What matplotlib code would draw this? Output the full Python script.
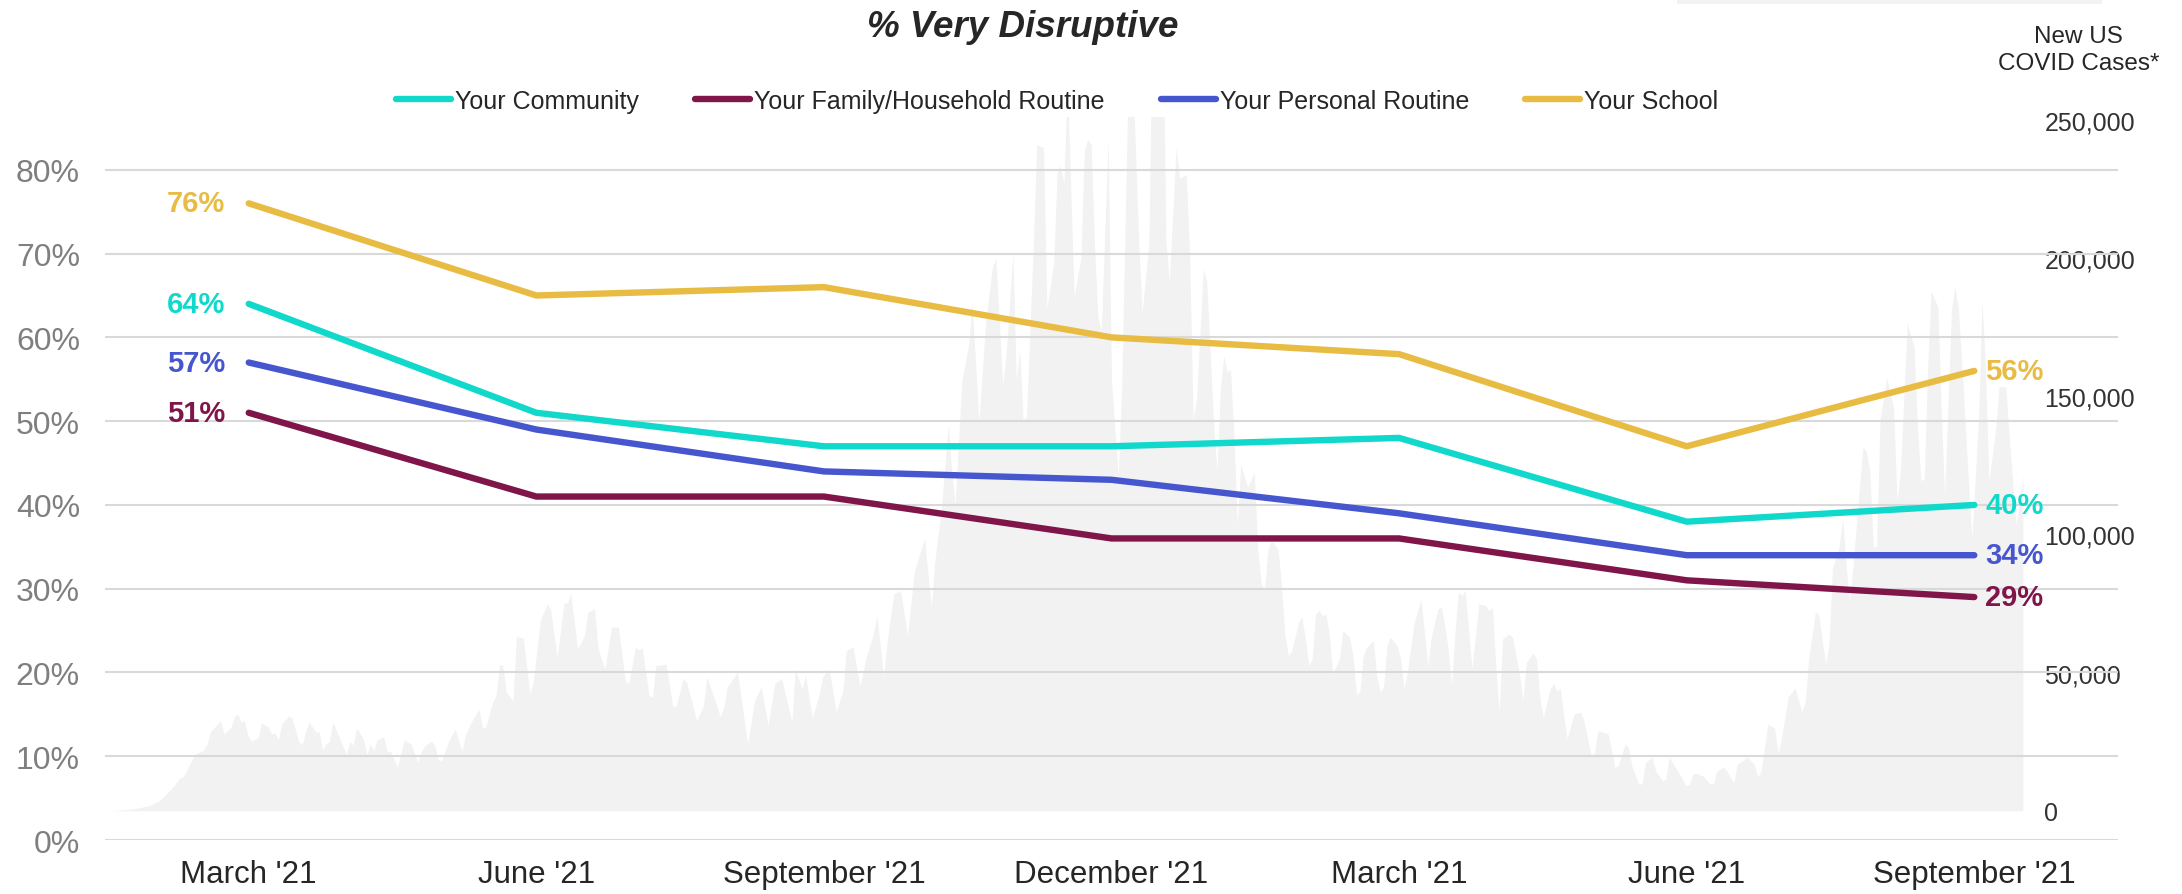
from matplotlib import pyplot as plt
from matplotlib.patches import Rectangle
from matplotlib.ticker import PercentFormatter, StrMethodFormatter
import pandas as pd
import numpy as np

plt.rcParams['font.family'] = ['Liberation Sans', 'DejaVu Sans']

waves = ["March '21", "June '21", "September '21", "December '21",
         "March '21", "June '21", "September '21"]

# % very disruptive, per survey wave
community = [64, 51, 47, 47, 48, 38, 40]
family = [51, 41, 41, 36, 36, 31, 29]
personal = [57, 49, 44, 43, 39, 34, 34]
school = [76, 65, 66, 60, 58, 47, 56]

series_names = ['Your Community', 'Your Family/Household Routine',
                'Your Personal Routine', 'Your School']
series_colors = ['#10d8cb', '#7f1549', '#4656cf', '#e8bb42']

# new US covid cases in the background (thousands), days since start
case_start = '2020-02-25'
case_days = [
    0, 6, 11, 13, 14, 16, 18, 20, 21, 22,
    24, 25, 26, 27, 28, 29, 32, 33, 35, 36,
    37, 38, 39, 40, 41, 43, 44, 46, 47, 48,
    49, 50, 52, 53, 55, 56, 57, 58, 60, 61,
    62, 63, 64, 65, 67, 69, 70, 71, 72, 74,
    75, 76, 77, 78, 80, 81, 82, 84, 86, 88,
    90, 91, 92, 94, 95, 96, 97, 99, 101, 103,
    104, 106, 108, 109, 110, 112, 113, 114, 115, 116,
    118, 119, 121, 123, 124, 126, 128, 129, 131, 133,
    134, 135, 137, 139, 140, 142, 143, 145, 147, 149,
    151, 152, 154, 155, 156, 158, 159, 160, 163, 165,
    166, 168, 169, 172, 174, 175, 179, 180, 181, 184,
    187, 189, 191, 193, 195, 197, 200, 201, 203, 204,
    206, 208, 209, 211, 213, 215, 216, 218, 220, 222,
    224, 225, 227, 228, 230, 232, 234, 236, 239, 241,
    242, 244, 246, 247, 248, 250, 252, 253, 255, 257,
    259, 260, 262, 263, 265, 266, 267, 268, 269, 271,
    272, 274, 275, 277, 278, 279, 280, 281, 283, 285,
    286, 287, 288, 289, 290, 291, 293, 294, 296, 297,
    299, 300, 302, 303, 305, 306, 309, 310, 311, 313,
    314, 316, 317, 318, 319, 321, 322, 324, 325, 326,
    327, 328, 329, 330, 331, 332, 334, 336, 337, 338,
    339, 340, 341, 343, 344, 345, 346, 347, 349, 350,
    351, 352, 353, 354, 355, 356, 357, 358, 359, 361,
    362, 364, 365, 366, 367, 368, 369, 371, 372, 373,
    374, 375, 376, 378, 379, 380, 381, 383, 385, 387,
    388, 390, 391, 392, 393, 394, 395, 396, 397, 398,
    400, 402, 404, 405, 406, 407, 408, 409, 411, 412,
    414, 415, 416, 418, 419, 420, 421, 423, 424, 425,
    426, 427, 428, 430, 432, 433, 435, 436, 437, 440,
    441, 442, 443, 445, 446, 447, 449, 450, 451, 453,
    454, 456, 457, 458, 461, 463, 464, 465, 466, 468,
    470, 471, 472, 474, 475, 477, 478, 481, 483, 484,
    485, 487, 489, 490, 491, 493, 495, 497, 498, 499,
    501, 502, 504, 505, 506, 508, 509, 510, 511, 512,
    514, 515, 516, 517, 518, 519, 520, 522, 524, 525,
    526, 528, 530, 531, 532, 533, 534, 535, 537, 538,
    539, 541, 542, 543, 544, 546, 547, 549, 550, 551,
    552, 554, 555, 557, 558, 560, 561, 562,
]
case_thousands = [
    0, 0.6, 1.8, 3, 3.6, 6, 8.6, 11.8, 12.2, 14.5,
    19.4, 20.9, 21.2, 22, 24, 28.6, 32.6, 27.8, 30, 33.9,
    35, 32.2, 32.6, 27.4, 25.2, 26.3, 31.7, 30.3, 27.8, 28.1,
    25.6, 31.4, 34.3, 33.6, 24.9, 23.9, 28.5, 32.2, 28.5, 28.5,
    22, 24.1, 25, 32.1, 26.3, 20.2, 24.9, 23.8, 29.9, 26,
    20.2, 24.1, 21.7, 25.7, 26.7, 21.5, 21.4, 15.8, 25.7, 24.1,
    17.6, 21.2, 23.4, 25.2, 23.5, 18.4, 18.1, 24.9, 29.6, 21.5,
    27.5, 32.6, 36.8, 29.9, 30.4, 39.3, 41.6, 53.1, 52.5, 43,
    39.8, 63, 62.5, 42.2, 47, 68.8, 74.8, 73, 55.6, 75.2,
    75.2, 78.4, 58.5, 63.4, 71.9, 73, 58.5, 51.3, 66.5, 66.5,
    47, 45.9, 59.2, 58.2, 58.9, 41.6, 41.1, 52.5, 53.1, 37.5,
    38, 47.7, 46.6, 32.6, 38, 48.4, 33.9, 37.5, 44.8, 50.2,
    24.1, 39.8, 44.8, 30.8, 46.2, 47.7, 32.1, 51.3, 44.1, 49.1,
    33.6, 41.9, 48.4, 51.3, 35.7, 43.4, 58, 59.2, 45.2, 56.1,
    64, 70.6, 48.4, 61, 78.6, 79.6, 63.4, 86.4, 98.4, 73.7,
    89.8, 110, 140, 122.7, 111, 155.6, 168.7, 184, 140.7, 177,
    197, 199.8, 154, 165, 201.8, 155.6, 167, 141.5, 142.5, 204.8,
    240.9, 240, 181.8, 198, 231, 233.5, 227, 265, 186, 199.8,
    239, 243, 241, 204.8, 178.5, 173.6, 243, 155.6, 121, 154,
    270, 275, 206, 180, 206, 290, 300, 206, 191.6, 240,
    229, 230, 199.8, 141.5, 149, 196, 191.6, 140.7, 122.7, 152.3,
    164.6, 158.8, 159.6, 135.8, 103, 125.5, 117, 122.5, 94.7, 82,
    80.3, 94.7, 97.7, 94.7, 81.5, 63.4, 56.1, 57.9, 68.2, 70,
    62.2, 52.5, 54.9, 71.2, 72.4, 70.6, 71.2, 64.6, 49.5, 54.9,
    65.2, 62.8, 56.1, 42.2, 42.9, 56.1, 59.1, 61.5, 48.9, 42.9,
    44.7, 59.7, 62.8, 59.7, 54.9, 44.1, 50.1, 68, 76.6, 52.5,
    62.8, 73, 73.6, 67, 58.5, 45.2, 64.6, 79.1, 77.8, 79.6,
    51.3, 74.8, 74.2, 72.4, 73.6, 52.5, 35.6, 62.2, 64, 62.5,
    48.9, 39.8, 53.7, 57.1, 54.9, 40.4, 33.8, 44.1, 45.9, 43.4,
    44.1, 34.4, 26, 35, 35.6, 32, 20.5, 20.5, 29, 27.8,
    22.3, 15.7, 16.3, 24.1, 23, 16.3, 9.7, 9.7, 17.5, 19.3,
    14.5, 10.9, 11.5, 19.3, 13.3, 9, 9.7, 13.5, 13.5, 12.5,
    9.7, 9.7, 14.2, 15.8, 14.2, 10.2, 16.8, 19.4, 16.8, 12.2,
    14.2, 31.3, 29.9, 20.7, 26, 41.2, 44.4, 35.9, 39.1, 54.9,
    72, 70.7, 52.9, 60.2, 87.7, 95.6, 106, 89, 75.9, 87.7,
    118, 131.7, 129.8, 122.6, 95.6, 95.6, 141.6, 156.7, 145.6, 112,
    123.2, 176.4, 167.9, 139, 119.3, 120.3, 160, 188, 182.3, 144.2,
    114, 181, 189.6, 182.3, 162.6, 119.3, 98.2, 142.9, 185, 160,
    119.3, 137.7, 153.4, 153.4, 135, 103.5, 111.4, 121.2,
]
assert len(case_days) == len(case_thousands)

fig = plt.figure(figsize=(21.82, 8.95), dpi=100)
ax = fig.add_axes([0.0481, 0.0603, 0.9226, 0.8078])

# covid cases: right axis + own date axis, drawn under the survey lines
axc = ax.twinx()
axd = axc.twiny()
start = pd.Timestamp(case_start)
case_dates = start + pd.to_timedelta(case_days, unit='D')
axd.fill_between(case_dates, np.array(case_thousands) * 1000, color='#f2f2f2', lw=0)
axd.set_xlim(start - pd.Timedelta(days=2), start + pd.Timedelta(days=590))
axd.xaxis.set_visible(False)
axc.set_ylim(-10600, 251000)
axc.set_yticks(range(0, 250001, 50000))
axc.yaxis.set_major_formatter(StrMethodFormatter('{x:,.0f}'))
axc.tick_params(axis='y', length=0, pad=-53, labelsize=18, labelcolor='#333333')
for a in (axc, axd):
    for s in a.spines.values():
        s.set_visible(False)

ax.set_zorder(5)
ax.patch.set_visible(False)

x = np.arange(len(waves))
for values, name, color in zip([community, family, personal, school], series_names, series_colors):
    vals = np.array(values) / 100
    ax.plot(x, vals, color=color, lw=4.6, solid_capstyle='round', label=name)
    ax.annotate(f'{values[0]}%', (x[0], vals[0]), xytext=(-17, 0), textcoords='offset points',
                ha='right', va='center', fontsize=21, fontweight='bold', color=color)
    ax.annotate(f'{values[-1]}%', (x[-1], vals[-1]), xytext=(8, 0), textcoords='offset points',
                ha='left', va='center', fontsize=21, fontweight='bold', color=color)

ax.set_xlim(-0.5, 6.5)
ax.set_ylim(0, 0.863)
ax.set_yticks(np.arange(0, 0.81, 0.1))
ax.yaxis.set_major_formatter(PercentFormatter(1.0, decimals=0))
ax.grid(axis='y', color='#d9d9d9', lw=1.5)
ax.set_axisbelow(True)
ax.set_xticks(x, waves)
ax.tick_params(axis='x', length=0, pad=14, labelsize=22.5, labelcolor='#262626')
ax.tick_params(axis='y', length=0, pad=18, labelsize=23, labelcolor='#7f7f7f')
for s in ax.spines.values():
    s.set_visible(False)

fig.legend(loc='center', bbox_to_anchor=(0.4845, 0.8865), ncol=4, frameon=False,
           fontsize=18, handlelength=2.2, handletextpad=0.16, columnspacing=2.25,
           labelcolor='#262626')

fig.text(0.4686, 0.969, '% Very Disruptive', ha='center', va='center', fontsize=26.5,
         fontweight='bold', fontstyle='italic', color='#262626')
fig.text(0.9525, 0.9435, 'New US\nCOVID Cases*', ha='center', va='center', fontsize=17.5,
         linespacing=1.3, color='#262626')

# light grey strip cut off at the top right
fig.patches.append(Rectangle((0.7686, 0.9939), 0.1948, 0.0061, transform=fig.transFigure,
                             color='#f2f2f2', lw=0))

fig.savefig('out.png', dpi=100)
